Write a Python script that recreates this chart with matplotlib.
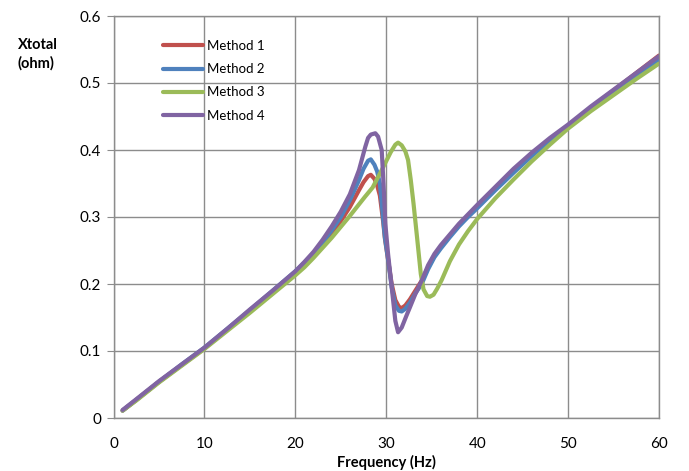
import matplotlib
matplotlib.use("Agg")
import matplotlib.pyplot as plt

# frequency (Hz) / reactance (ohm), one pair of lists per method
x_m1 = [1, 2.5, 5, 7.5, 10, 12.5, 15, 17.5, 20, 21, 22, 23, 24, 25, 26, 27, 27.5, 28, 28.3, 28.7,
        29, 29.3, 29.67, 29.85, 30.2, 30.6, 31, 31.4, 31.7, 32.1, 32.6, 33.2, 33.9, 34.6, 35.3,
        36, 37, 38, 39, 40, 42, 44, 46, 48, 50, 52.5, 55, 57.5, 60]
y_m1 = [0.011, 0.027, 0.054, 0.079, 0.104, 0.132, 0.16, 0.188, 0.217, 0.23, 0.244, 0.259, 0.275,
        0.294, 0.315, 0.34, 0.352, 0.361, 0.363, 0.357, 0.347, 0.332, 0.292, 0.268, 0.236,
        0.2, 0.176, 0.166, 0.164, 0.168, 0.177, 0.19, 0.205, 0.225, 0.242, 0.255, 0.272, 0.288,
        0.302, 0.316, 0.343, 0.369, 0.394, 0.416, 0.436, 0.463, 0.489, 0.515, 0.541]

x_m2 = [1, 2.5, 5, 7.5, 10, 12.5, 15, 17.5, 20, 21, 22, 23, 24, 25, 26, 27, 27.5, 28, 28.3, 28.7,
        29, 29.3, 29.67, 29.85, 30.2, 30.6, 31, 31.4, 31.7, 32.1, 32.6, 33.2, 33.9, 34.6, 35.3,
        36, 37, 38, 39, 40, 42, 44, 46, 48, 50, 52.5, 55, 57.5, 60]
y_m2 = [0.011, 0.027, 0.054, 0.08, 0.105, 0.133, 0.161, 0.19, 0.219, 0.232, 0.246, 0.262, 0.28,
        0.3, 0.325, 0.355, 0.372, 0.384, 0.386, 0.378, 0.368, 0.35, 0.296, 0.27, 0.237, 0.195,
        0.168, 0.16, 0.159, 0.163, 0.172, 0.186, 0.2, 0.222, 0.24, 0.253, 0.27, 0.286, 0.3,
        0.313, 0.34, 0.366, 0.391, 0.414, 0.434, 0.46, 0.485, 0.51, 0.535]

x_m3 = [1, 2.5, 5, 7.5, 10, 12.5, 15, 17.5, 20, 21, 22, 23, 24, 25.9, 27.65, 28.5, 29.5, 30.5,
        31, 31.3, 31.7, 32.1, 32.4, 32.7, 33, 33.4, 33.8, 34.1, 34.5, 34.8, 35.2, 35.6, 36.1, 37,
        38, 39, 40, 42, 44, 46, 48, 50, 52.5, 55, 57.5, 60]
y_m3 = [0.011, 0.026, 0.053, 0.078, 0.103, 0.13, 0.157, 0.185, 0.213, 0.225, 0.239, 0.254,
        0.269, 0.3, 0.33, 0.344, 0.37, 0.397, 0.408, 0.411, 0.407, 0.398, 0.385, 0.355, 0.32,
        0.268, 0.215, 0.192, 0.182, 0.181, 0.184, 0.193, 0.206, 0.234, 0.259, 0.279, 0.297,
        0.328, 0.356, 0.383, 0.408, 0.432, 0.458, 0.482, 0.506, 0.529]

x_m4 = [1, 2.5, 5, 7.5, 10, 12.5, 15, 17.5, 20, 21, 22, 23, 24, 25, 26, 27, 27.7, 28, 28.3, 28.8,
        29.1, 29.3, 29.5, 29.7, 29.9, 30.2, 30.6, 31, 31.3, 31.7, 32.2, 32.6, 33.2, 33.9, 34.6,
        35.3, 36, 37, 38, 39, 40, 42, 44, 46, 48, 50, 52.5, 55, 57.5, 60]
y_m4 = [0.012, 0.028, 0.055, 0.08, 0.105, 0.133, 0.162, 0.19, 0.219, 0.233, 0.248, 0.266,
        0.286, 0.308, 0.334, 0.37, 0.405, 0.418, 0.423, 0.425, 0.42, 0.41, 0.4, 0.35, 0.29,
        0.245, 0.195, 0.145, 0.128, 0.135, 0.152, 0.165, 0.185, 0.205, 0.228, 0.245, 0.258,
        0.274, 0.29, 0.304, 0.318, 0.345, 0.372, 0.396, 0.418, 0.438, 0.465, 0.49, 0.515, 0.54]

series = [
    ("Method 1", x_m1, y_m1, "#C0504D"),
    ("Method 2", x_m2, y_m2, "#4F81BD"),
    ("Method 3", x_m3, y_m3, "#9BBB59"),
    ("Method 4", x_m4, y_m4, "#8064A2"),
]

x_ticks = [0, 10, 20, 30, 40, 50, 60]
y_ticks = [0, 0.1, 0.2, 0.3, 0.4, 0.5, 0.6]

plt.rcParams["font.family"] = ["Lato", "DejaVu Sans"]

fig = plt.figure(figsize=(6.89, 4.71), dpi=100)
ax = fig.add_axes([113.5 / 689, 1 - 418 / 471, (659 - 113.5) / 689, (418 - 16) / 471])

for name, xs, ys, col in series:
    ax.plot(xs, ys, color=col, linewidth=3.0, label=name,
            solid_capstyle="round", solid_joinstyle="round")

ax.set_xlim(0, 60)
ax.set_ylim(0, 0.6)
ax.set_xticks(x_ticks)
ax.set_yticks(y_ticks)
ax.set_xticklabels([str(t) for t in x_ticks])
ax.set_yticklabels(["0" if t == 0 else f"{t:.1f}" for t in y_ticks])
ax.grid(True, color="#8c8c8c", linewidth=1.0)
ax.set_axisbelow(True)
for s in ax.spines.values():
    s.set_color("#8c8c8c")
    s.set_linewidth(1.0)
ax.tick_params(axis="x", length=0, pad=14, labelsize=11)
ax.tick_params(axis="y", length=5, pad=4, labelsize=11, color="#8c8c8c")

fig.text(18 / 689, 1 - 38 / 471, "Xtotal\n(ohm)", fontsize=10.5, fontweight="bold",
         ha="left", va="top", linespacing=1.35)
fig.text(386 / 689, 1 - 462 / 471, "Frequency (Hz)", fontsize=10.5, fontweight="bold",
         ha="center", va="center")

ax.legend(loc="upper left", bbox_to_anchor=(163 / 689, 1 - 40 / 471),
          bbox_transform=fig.transFigure, frameon=False, fontsize=9.5,
          handlelength=3.0, handletextpad=0.3, labelspacing=0.85,
          borderpad=0, borderaxespad=0)

fig.savefig("out.png", dpi=100)
